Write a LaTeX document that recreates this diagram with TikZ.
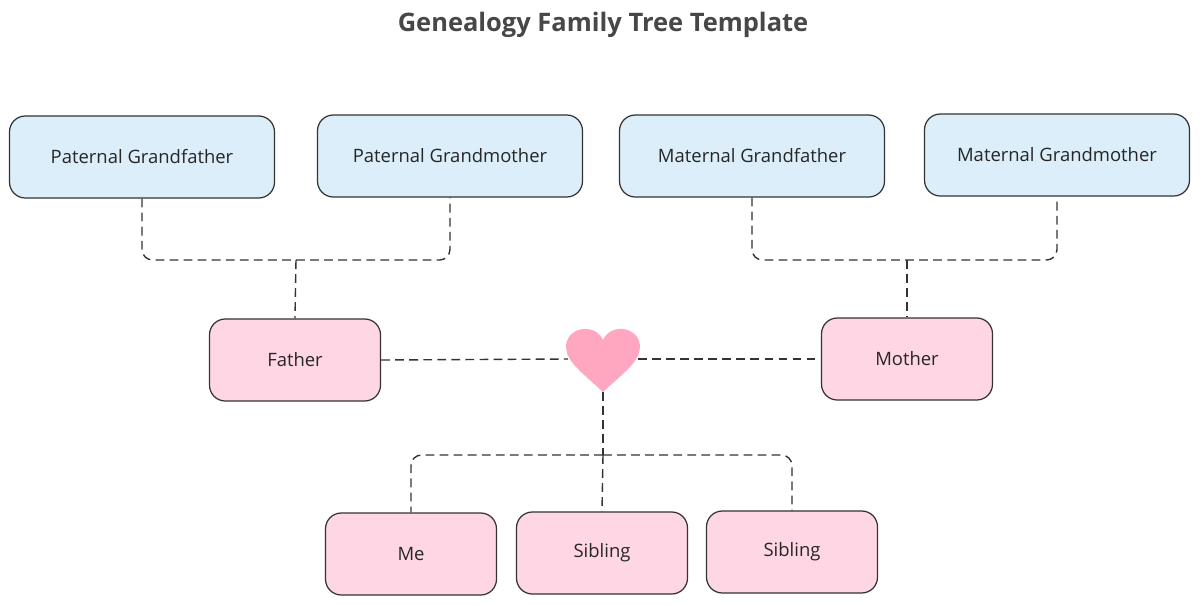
\documentclass[tikz,border=0pt]{standalone}
\usepackage{fontspec}
\setmainfont{Open Sans}
\begin{document}
\begin{tikzpicture}[x=0.02cm,y=-0.02cm,
  box/.style={draw=black!80,line width=0.7pt,rounded corners=9pt,minimum height=82*0.02cm,font=\fontsize{10.5}{12}\selectfont,text=black!85},
  gp/.style={box,fill=blueF,minimum width=265*0.02cm},
  pk/.style={box,fill=pinkF,minimum width=171*0.02cm},
  con/.style={draw=black!80,line width=0.8pt,dash pattern=on 5pt off 3pt,rounded corners=6pt}]
\definecolor{blueF}{HTML}{DCEEF9}
\definecolor{pinkF}{HTML}{FFD6E4}
\definecolor{heartC}{HTML}{FFA6C0}
\useasboundingbox (0,0) rectangle (1200,605);
\node[font=\fontsize{14.5}{16}\selectfont\bfseries,text=black!72] (title) at (603,25) {Genealogy Family Tree Template};
\node[gp] (pgf) at (142,157) {Paternal Grandfather};
\node[gp] (pgm) at (450,156) {Paternal Grandmother};
\node[gp] (mgf) at (752,156) {Maternal Grandfather};
\node[gp] (mgm) at (1057,155) {Maternal Grandmother};
\node[pk] (fa) at (295,360) {Father};
\node[pk] (mo) at (907,359) {Mother};
\node[pk] (me) at (411,554) {Me};
\node[pk] (s1) at (602,553) {Sibling};
\node[pk] (s2) at (792,552) {Sibling};
\coordinate (hc) at (603,359);
\coordinate (hb) at (603,392);
\coordinate (pj) at (296,260);
\coordinate (mj) at (907,260);
\coordinate (cj) at (603,455);
\draw[con] (pgf.south) |- (pj) -| (pgm.south);
\draw[con] (pj) -- (fa.north);
\draw[con] (mgf.south) |- (mj) -| (mgm.south);
\draw[con] (mj) -- (mo.north);
\draw[con] (fa.east) -- (568,359);
\draw[con] (638,359) -- (mo.west);
\draw[con] (hb) -- (cj);
\draw[con] (cj) -| (me.north);
\draw[con] (cj) -| (s2.north);
\draw[con] (cj) -- (s1.north);
\fill[heartC] (603,392) .. controls (585,375) and (566,362) .. (566,347)
  .. controls (566,327) and (595,322) .. (603,340)
  .. controls (611,322) and (640,327) .. (640,347)
  .. controls (640,362) and (621,375) .. (603,392) -- cycle;
\end{tikzpicture}
\end{document}
